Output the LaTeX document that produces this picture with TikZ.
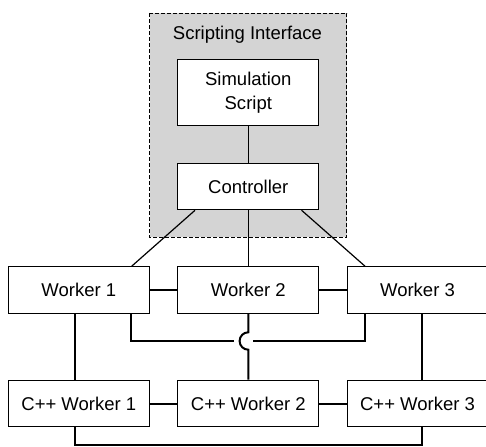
\documentclass[tikz,border=0pt]{standalone}
\usepackage{fontspec}
\setmainfont{Liberation Sans}
\usetikzlibrary{calc}
\begin{document}
\begin{tikzpicture}[x=1pt,y=-1pt,
  box/.style={draw=black,line width=0.9pt,fill=white,inner sep=0pt,minimum width=141pt,minimum height=46.7pt,font=\fontsize{18.5}{24}\selectfont,align=center},
  link/.style={line width=2pt},
  thin link/.style={line width=1.2pt}]
\useasboundingbox (0,0) rectangle (486,446);
% scripting interface region
\draw[fill=black!17,line width=0.9pt,dash pattern=on 4pt off 2pt] (149.5,13) rectangle (346.7,237.3);
\node[font=\fontsize{18.5}{22}\selectfont] (si) at (247.5,35) {Scripting Interface};
\node[box,minimum height=65.7pt] (sim) at (248.3,92.8) {Simulation\\Script};
\node[box] (ctrl) at (248.3,186.5) {Controller};
\node[box] (w1) at (78.8,290) {Worker 1};
\node[box] (w2) at (248.3,290) {Worker 2};
\node[box] (w3) at (417.5,290) {Worker 3};
\node[box] (c1) at (78.8,403.5) {C++ Worker 1};
\node[box] (c2) at (248.3,403.5) {C++ Worker 2};
\node[box] (c3) at (417.5,403.5) {C++ Worker 3};
\coordinate (bl) at (0,341);
\coordinate (bot) at (0,444.5);
% controller connections
\draw[thin link] (sim.south) -- (ctrl.north);
\draw[thin link] ($(ctrl.south)+(-53.3,0)$) -- ($(w1.north)+(52.9,0)$);
\draw[thin link] (ctrl.south) -- (w2.north);
\draw[thin link] ($(ctrl.south)+(53.3,0)$) -- ($(w3.north)+(-52.5,0)$);
% worker row links
\draw[link] (w1.east) -- (w2.west);
\draw[link] (w2.east) -- (w3.west);
\draw[link] (c1.east) -- (c2.west);
\draw[link] (c2.east) -- (c3.west);
% vertical links
\draw[link] ($(w1.south)+(-4.3,0)$) -- ($(c1.north)+(-4.3,0)$);
\draw[link] ($(w3.south)+(4.8,0)$) -- ($(c3.north)+(4.8,0)$);
% bus between worker 1 and worker 3 with hop
\draw[link] ($(w1.south)+(52,0)$) |- ($(bl)+(234.3,0)$);
\draw[link] ($(w3.south)+(-52.5,0)$) |- ($(bl)+(253.3,0)$);
\draw[link] (w2.south) -- ($(bl)+(248.3,-8.7)$) arc[start angle=270,end angle=90,radius=8.7] -- (c2.north);
% bottom link
\draw[link] ($(c1.south)+(-4.3,0)$) |- ($(bot)+(422.3,0)$) -- ($(c3.south)+(4.8,0)$);
\end{tikzpicture}
\end{document}
